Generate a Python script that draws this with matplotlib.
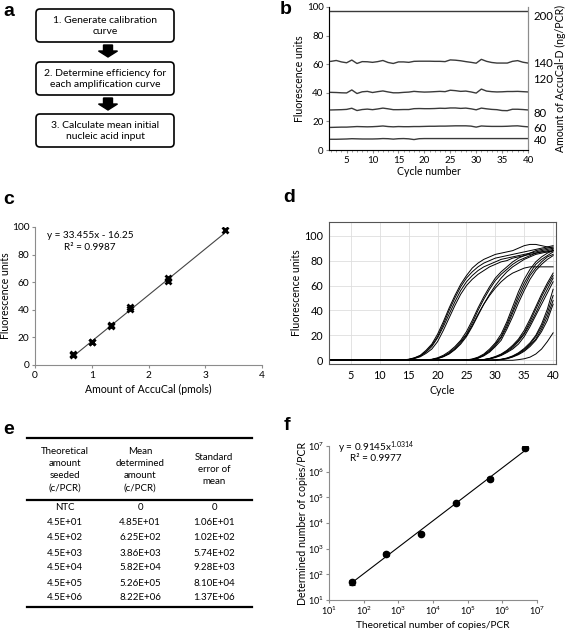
import numpy as np
import matplotlib
matplotlib.use("Agg")
import matplotlib.pyplot as plt
from matplotlib.patches import FancyBboxPatch, FancyArrow

plt.rcParams["font.family"] = ["Lato", "DejaVu Sans"]
plt.rcParams["mathtext.fontset"] = "custom"
plt.rcParams["mathtext.rm"] = "Lato"
plt.rcParams["mathtext.it"] = "Lato:italic"

W, H = 567, 633

# ---- panel a: workflow steps
steps = ["1. Generate calibration\ncurve",
         "2. Determine efficiency for\neach amplification curve",
         "3. Calculate mean initial\nnucleic acid input"]

# ---- panel b: AccuCal-D fluorescence per cycle
b_cycles = np.arange(1, 41)
b_s200 = [97.0, 97.0, 97.0, 97.0, 97.0, 97.0, 97.0, 97.0, 97.0, 97.0,
          97.0, 97.0, 97.0, 97.0, 97.0, 97.0, 97.0, 97.0, 97.0, 97.0,
          97.0, 97.0, 97.0, 97.0, 97.0, 97.0, 97.0, 97.0, 97.0, 97.0,
          97.0, 97.0, 97.0, 97.0, 97.0, 97.0, 97.0, 97.0, 97.0, 97.0]
b_s140 = [61.8, 62.0, 62.6, 61.6, 61.0, 62.9, 60.5, 61.8, 61.7, 61.3,
          61.8, 62.6, 61.2, 60.5, 61.6, 61.6, 61.3, 62.0, 62.1, 62.1,
          62.1, 62.0, 62.0, 61.8, 63.0, 62.8, 62.4, 61.8, 61.3, 60.7,
          63.4, 62.0, 61.2, 60.8, 60.8, 60.8, 62.0, 62.5, 61.4, 60.8]
b_s120 = [40.5, 40.3, 40.2, 40.0, 39.9, 42.0, 39.5, 40.7, 41.0, 40.2,
          40.8, 41.3, 40.6, 40.0, 40.0, 40.3, 40.5, 41.0, 40.7, 40.5,
          40.6, 40.8, 41.0, 40.8, 41.8, 41.5, 41.0, 41.2, 40.6, 39.8,
          42.6, 41.2, 40.8, 40.6, 40.7, 40.9, 40.9, 41.0, 40.8, 40.6]
b_s80 = [28.0, 28.0, 28.1, 28.2, 28.4, 29.2, 27.6, 28.3, 28.6, 28.2,
         28.7, 29.3, 28.8, 28.2, 28.2, 28.3, 28.3, 28.9, 29.0, 28.9,
         28.9, 29.0, 29.2, 29.1, 29.4, 29.4, 29.1, 29.3, 28.8, 28.1,
         29.3, 28.8, 28.4, 28.2, 27.6, 27.5, 28.5, 28.5, 28.3, 28.0]
b_s60 = [15.8, 15.8, 15.9, 16.0, 16.0, 16.2, 16.4, 16.3, 16.2, 16.3,
         16.5, 16.8, 16.4, 16.2, 16.4, 16.3, 16.3, 16.4, 16.4, 16.5,
         16.6, 16.6, 16.7, 16.7, 16.8, 16.9, 16.9, 16.9, 16.7, 16.0,
         16.8, 16.6, 16.5, 16.5, 16.5, 16.6, 16.8, 16.9, 16.5, 16.2]
b_s40 = [7.5, 7.5, 7.5, 7.6, 7.7, 7.9, 7.8, 7.7, 7.7, 7.7,
         7.8, 8.0, 7.9, 7.6, 7.9, 8.0, 7.8, 7.3, 7.9, 8.0,
         8.0, 8.0, 8.0, 8.0, 8.0, 8.0, 8.0, 8.0, 8.0, 8.0,
         8.0, 8.0, 8.0, 8.0, 8.0, 8.0, 8.0, 8.0, 8.0, 8.0]
b_right_pos = [94, 61.5, 50, 26, 16, 7]
b_right_labels = ["200", "140", "120", "80", "60", "40"]

# ---- panel c: calibration curve
c_amount = [0.67, 0.67, 1.0, 1.0, 1.34, 1.34, 1.67, 1.67, 2.34, 2.34, 3.34]
c_fluor = [7.5, 7.9, 16.4, 16.8, 28.2, 28.9, 40.3, 42.0, 61.2, 63.0, 97.5]
c_slope, c_intercept, c_r2 = 33.455, -16.25, 0.9987

# ---- panel d: amplification curves (values from the start cycle onwards)
d_start_a = 13
d_group_a = [
    [0, 0.3, 0.8, 2, 4, 8, 13, 21, 31, 42, 52, 61, 68, 74, 78, 81, 83, 85, 86, 87, 88, 90, 92, 93, 93, 92, 91, 90],
    [0, 0.3, 0.7, 1.8, 3.6, 7, 12, 19, 29, 40, 50, 59, 66, 71, 75, 78, 80, 82, 83, 84, 85, 86, 87, 88, 89, 90, 91, 92],
    [0, 0.2, 0.6, 1.6, 3.3, 6.5, 11, 18, 27, 37, 47, 56, 63, 68, 72, 75, 77, 79, 81, 82, 83, 84, 85, 86, 87, 88, 89, 90],
    [0, 0.2, 0.5, 1.4, 2.8, 5.5, 9, 15, 24, 34, 44, 53, 60, 65, 69, 72, 75, 77, 79, 80, 82, 83, 84, 85, 86, 87, 87, 88],
]
d_start_b = 18
d_group_b = [
    [0.3, 0.8, 2, 4, 7, 11, 16, 23, 32, 42, 51, 59, 66, 71, 75, 79, 82, 84, 86, 88, 89, 90, 91],
    [0.2, 0.6, 1.6, 3.3, 6, 10, 15, 21, 30, 40, 49, 57, 64, 69, 73, 77, 80, 82, 84, 86, 87, 88, 89],
    [0.2, 0.6, 1.5, 3, 5.5, 9, 14, 20, 28, 37, 45, 52, 58, 63, 67, 70, 72, 74, 75, 75, 75, 75, 75],
    [0.1, 0.5, 1.3, 2.8, 5, 8.5, 13, 19, 27, 36, 45, 53, 60, 66, 71, 75, 78, 81, 83, 85, 86, 87, 88],
]
d_start_c = 25
d_group_c = [
    [0.3, 1, 2.5, 5, 9, 14, 21, 31, 43, 55, 65, 73, 79, 83, 86, 88],
    [0.2, 0.8, 2, 4.4, 8, 13, 19, 29, 40, 52, 62, 70, 77, 81, 84, 87],
    [0.2, 0.7, 1.8, 4, 7.2, 12, 18, 27, 38, 49, 59, 68, 74, 79, 83, 85],
    [0.1, 0.6, 1.6, 3.5, 6.5, 11, 16, 25, 35, 46, 56, 65, 72, 77, 81, 84],
]
d_start_d = 27
d_group_d = [
    [0.2, 0.6, 1.5, 3, 5, 8, 12, 17, 24, 33, 43, 53, 62, 70],
    [0.2, 0.5, 1.3, 2.7, 4.6, 7.4, 11, 16, 22, 31, 41, 51, 60, 68],
    [0.1, 0.5, 1.2, 2.5, 4.2, 6.8, 10, 15, 21, 29, 38, 48, 57, 66],
    [0.1, 0.4, 1, 2.2, 3.8, 6.2, 9, 13, 19, 27, 36, 45, 54, 63],
]
d_start_e = 30
d_group_e = [
    [0.3, 0.8, 1.8, 3.5, 6, 9.5, 14, 20, 29, 41, 57],
    [0.2, 0.7, 1.6, 3.2, 5.5, 8.8, 13, 19, 27, 38, 52],
    [0.2, 0.6, 1.4, 2.9, 5, 8, 12, 17, 25, 35, 48],
    [0.1, 0.5, 1.2, 2.6, 4.5, 7.2, 11, 16, 23, 32, 45],
]
d_start_f = 34
d_group_f = [
    [0.5, 1.2, 2.5, 5, 9, 15, 22],
]

# ---- panel e: table
e_header = ["Theoretical\namount\nseeded\n(c/PCR)",
            "Mean\ndetermined\namount\n(c/PCR)",
            "Standard\nerror of\nmean"]
e_theoretical = ["NTC", "4.5E+01", "4.5E+02", "4.5E+03", "4.5E+04", "4.5E+05", "4.5E+06"]
e_mean = ["0", "4.85E+01", "6.25E+02", "3.86E+03", "5.82E+04", "5.26E+05", "8.22E+06"]
e_sem = ["0", "1.06E+01", "1.02E+02", "5.74E+02", "9.28E+03", "8.10E+04", "1.37E+06"]

# ---- panel f: determined vs theoretical copies
f_theoretical = [45, 450, 4.5e3, 4.5e4, 4.5e5, 4.5e6]
f_mean = [48.5, 625, 3860, 58200, 526000, 8220000]
f_sem = [10.6, 102, 574, 9280, 81000, 1370000]
f_coef, f_exp, f_r2 = 0.9145, 1.0314, 0.9977


def px_axes(left, top, right, bottom):
    return fig.add_axes([left / W, 1 - bottom / H, (right - left) / W, (bottom - top) / H])


fig = plt.figure(figsize=(W / 100, H / 100), dpi=100)

# overlay in pixel coordinates for panel a, table and panel letters
ov = fig.add_axes([0, 0, 1, 1])
ov.set_xlim(0, W)
ov.set_ylim(H, 0)
ov.axis("off")

for lab, (x, y) in zip("abcdef", [(9, 12), (286, 9), (9, 199), (289, 197), (9, 430), (287, 425)]):
    ov.text(x, y, lab, fontsize=14, fontweight="bold", family="Liberation Sans",
            ha="center", va="center")

box_tops = [8, 61, 113]
for txt, top in zip(steps, box_tops):
    ov.add_patch(FancyBboxPatch((36, top + 1), 138, 33, boxstyle="round,pad=0,rounding_size=4",
                                fc="white", ec="black", lw=1.2))
    ov.text(105, top + 18, txt, fontsize=7.5, ha="center", va="center", linespacing=1.25)
for y0 in [45, 98]:
    ov.add_patch(FancyArrow(108, y0, 0, 12, width=9, head_width=19, head_length=6,
                            length_includes_head=True, color="black"))

# panel e table
ov.plot([27, 252], [438, 438], color="black", lw=1.6)
ov.plot([27, 252], [500, 500], color="black", lw=1.6)
ov.plot([27, 252], [607, 607], color="black", lw=1.6)
col_x = [65, 140, 214]
for cx, head in zip(col_x, e_header):
    ov.text(cx, 469.5, head, fontsize=7, ha="center", va="center", linespacing=1.45)
row_y = [507, 522.5, 538, 553, 568, 583, 598]
for ry, a, m, s in zip(row_y, e_theoretical, e_mean, e_sem):
    for cx, val in zip(col_x, [a, m, s]):
        ov.text(cx, ry, val, fontsize=7, ha="center", va="center")

grey = "#8c8c8c"
tick_fs = 7
lab_fs = 7.6

# ---- panel b
axb = px_axes(329, 7, 528, 150)
for s in [b_s200, b_s140, b_s120, b_s80, b_s60, b_s40]:
    axb.plot(b_cycles, s, color="#3a3a3a", lw=1.0)
axb.set_xlim(1.6, 40)
axb.set_ylim(0, 100)
axb.set_xticks([5, 10, 15, 20, 25, 30, 35, 40])
axb.set_xticks(np.arange(2, 41), minor=True)
axb.set_yticks([0, 20, 40, 60, 80, 100])
axb.spines["top"].set_visible(False)
for sp in ["left", "bottom", "right"]:
    axb.spines[sp].set_color(grey)
axb.tick_params(axis="both", labelsize=tick_fs, length=2, color=grey, pad=2)
axb.tick_params(axis="x", which="minor", length=1.5, color=grey)
axb.set_xlabel("Cycle number", fontsize=lab_fs, labelpad=1)
axb.set_ylabel("Fluorescence units", fontsize=lab_fs, labelpad=1)
axr = axb.twinx()
axr.set_ylim(0, 100)
axr.set_yticks(b_right_pos)
axr.set_yticklabels(b_right_labels)
axr.spines["top"].set_visible(False)
axr.spines["right"].set_color(grey)
axr.tick_params(labelsize=8.2, length=0, pad=4)
axr.set_ylabel("Amount of AccuCal-D (ng/PCR)", fontsize=lab_fs, labelpad=1)

# ---- panel c
axc = px_axes(35, 227, 262, 365)
fit_x = np.array([min(c_amount), max(c_amount)])
axc.plot(fit_x, c_slope * fit_x + c_intercept, color="#444444", lw=0.8)
axc.plot(c_amount, c_fluor, "x", color="black", ms=5, mew=2)
axc.set_xlim(0, 4)
axc.set_ylim(0, 100)
axc.set_xticks([0, 1, 2, 3, 4])
axc.set_yticks([0, 20, 40, 60, 80, 100])
for sp in ["top", "right"]:
    axc.spines[sp].set_visible(False)
for sp in ["left", "bottom"]:
    axc.spines[sp].set_color(grey)
axc.tick_params(labelsize=tick_fs + 0.3, length=2, color=grey, pad=2)
axc.set_xlabel("Amount of AccuCal (pmols)", fontsize=lab_fs, labelpad=3)
axc.set_ylabel("Fluorescence units", fontsize=lab_fs, labelpad=1)
axc.text(0.97, 94, "y = %.3fx - %.2f" % (c_slope, -c_intercept), fontsize=7.2, ha="center", va="center")
axc.text(0.97, 85.5, "R² = %.4f" % c_r2, fontsize=7.2, ha="center", va="center")

# ---- panel d
axd = px_axes(329, 222, 556, 364)
d_cycles = np.arange(1, 41)
for start, group in [(d_start_a, d_group_a), (d_start_b, d_group_b), (d_start_c, d_group_c),
                     (d_start_d, d_group_d), (d_start_e, d_group_e), (d_start_f, d_group_f)]:
    for vals in group:
        y = np.zeros(40)
        y[start - 1:start - 1 + len(vals)] = vals
        axd.plot(d_cycles, y, color="black", lw=0.7)
axd.set_xlim(1.2, 40.5)
axd.set_ylim(-3, 111)
axd.set_xticks([5, 10, 15, 20, 25, 30, 35, 40])
axd.set_yticks([0, 20, 40, 60, 80, 100])
axd.grid(True, color="#dedede", lw=0.6)
axd.set_axisbelow(True)
for sp in axd.spines.values():
    sp.set_color("#555555")
axd.tick_params(labelsize=tick_fs + 0.8, length=0, pad=4)
axd.set_xlabel("Cycle", fontsize=lab_fs, labelpad=3)
axd.set_ylabel("Fluorescence units", fontsize=lab_fs, labelpad=2)

# ---- panel f
axf = px_axes(329, 446, 537, 600)
fx = np.array([min(f_theoretical), max(f_theoretical)])
axf.plot(fx, f_coef * fx ** f_exp, color="black", lw=0.8)
axf.errorbar(f_theoretical, f_mean, yerr=f_sem, fmt="o", color="black", ms=4.5,
             capsize=2.5, elinewidth=0.8, capthick=0.8)
axf.set_xscale("log")
axf.set_yscale("log")
axf.set_xlim(10, 1e7)
axf.set_ylim(10, 1e7)
axf.set_xticks([1e1, 1e2, 1e3, 1e4, 1e5, 1e6, 1e7])
axf.set_yticks([1e1, 1e2, 1e3, 1e4, 1e5, 1e6, 1e7])
axf.minorticks_off()
for sp in ["top", "right"]:
    axf.spines[sp].set_visible(False)
for sp in ["left", "bottom"]:
    axf.spines[sp].set_color(grey)
axf.tick_params(labelsize=6.6, length=2, color=grey, pad=1.5)
axf.set_xlabel("Theoretical number of copies/PCR", fontsize=7.3, va="top")
axf.xaxis.set_label_coords(0.5, -0.135)
axf.set_ylabel("Determined number of copies/PCR", fontsize=lab_fs, labelpad=0)
axf.text(0.226, 0.99, "y = %.4fx$^{%.4f}$" % (f_coef, f_exp), transform=axf.transAxes,
         fontsize=7.2, ha="center", va="center")
axf.text(0.226, 0.917, "R² = %.4f" % f_r2, transform=axf.transAxes,
         fontsize=7.2, ha="center", va="center")

fig.savefig("out.png", dpi=100)
